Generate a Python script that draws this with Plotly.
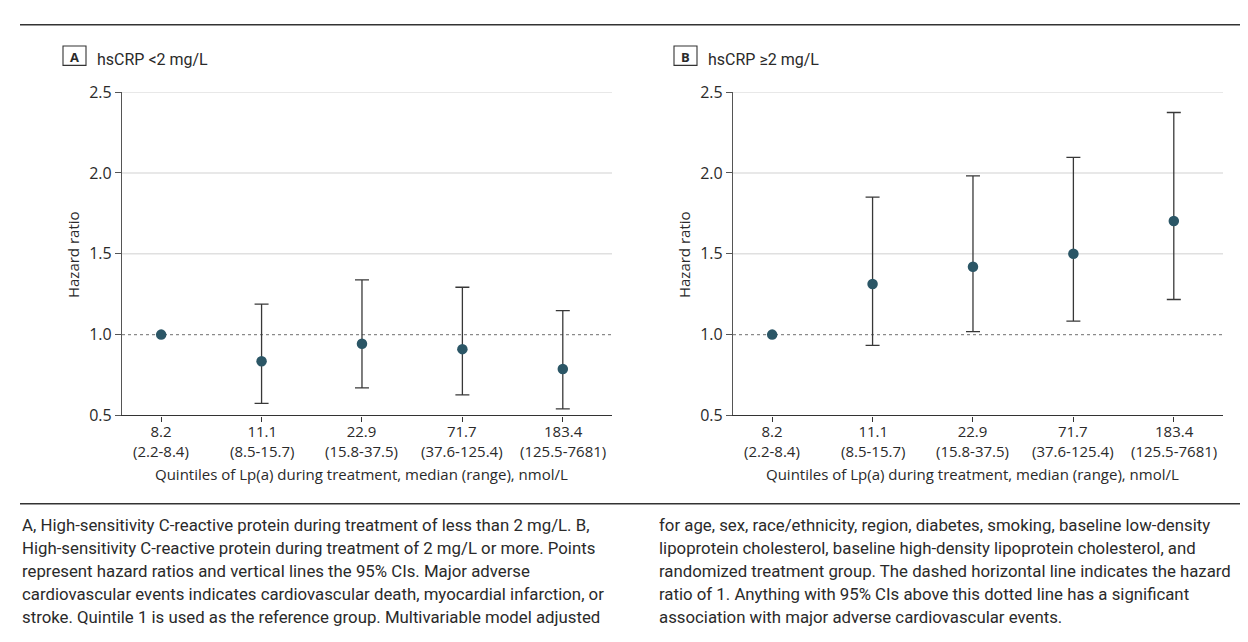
import plotly.graph_objects as go

W, H = 1248, 642

# ---------------- data ----------------
medians = ["8.2", "11.1", "22.9", "71.7", "183.4"]
ranges = ["(2.2-8.4)", "(8.5-15.7)", "(15.8-37.5)", "(37.6-125.4)", "(125.5-7681)"]

hr_a = [1.0, 0.835, 0.943, 0.910, 0.787]
lo_a = [None, 0.574, 0.670, 0.627, 0.540]
hi_a = [None, 1.188, 1.339, 1.293, 1.148]

hr_b = [1.0, 1.313, 1.420, 1.500, 1.703]
lo_b = [None, 0.934, 1.018, 1.084, 1.217]
hi_b = [None, 1.851, 1.982, 2.096, 2.374]

y_ticks = [0.5, 1.0, 1.5, 2.0, 2.5]
y_ticktext = ["0.5", "1.0", "1.5", "2.0", "2.5"]
grid_vals = [1.5, 2.0, 2.5]
ref_val = 1.0

panel_letters = ["A", "B"]
panel_titles = ["hsCRP <2 mg/L", "hsCRP ≥2 mg/L"]
x_title = "Quintiles of Lp(a) during treatment, median (range), nmol/L"
y_title = "Hazard ratio"

caption_left = [
    "A, High-sensitivity C-reactive protein during treatment of less than 2 mg/L. B,",
    "High-sensitivity C-reactive protein during treatment of 2 mg/L or more. Points",
    "represent hazard ratios and vertical lines the 95% CIs. Major adverse",
    "cardiovascular events indicates cardiovascular death, myocardial infarction, or",
    "stroke. Quintile 1 is used as the reference group. Multivariable model adjusted",
]
caption_right = [
    "for age, sex, race/ethnicity, region, diabetes, smoking, baseline low-density",
    "lipoprotein cholesterol, baseline high-density lipoprotein cholesterol, and",
    "randomized treatment group. The dashed horizontal line indicates the hazard",
    "ratio of 1. Anything with 95% CIs above this dotted line has a significant",
    "association with major adverse cardiovascular events.",
]

# ---------------- style ----------------
TXT = "#2a2a2a"
MARK = "#2b5666"
TICK_FONT = "Open Sans, Noto Sans, sans-serif"
NARROW = "Roboto, Liberation Sans, sans-serif"


def px(x):
    return x / W


def py(y):
    return 1 - y / H


x_domains = [[px(114), px(604)], [px(725), px(1215)]]
y_domain = [py(410.5), py(75.7)]

fig = go.Figure()

datasets = [(hr_a, lo_a, hi_a), (hr_b, lo_b, hi_b)]
for i, (hr, lo, hi) in enumerate(datasets):
    xa = "x" if i == 0 else "x2"
    ya = "y" if i == 0 else "y2"
    idx = [k for k in range(len(hr)) if lo[k] is not None]
    fig.add_trace(go.Scatter(
        x=[medians[k] for k in idx], y=[hr[k] for k in idx],
        mode="markers", marker=dict(size=10, color="rgba(0,0,0,0)"),
        error_y=dict(type="data", symmetric=False,
                     array=[hi[k] - hr[k] for k in idx],
                     arrayminus=[hr[k] - lo[k] for k in idx],
                     color="#383838", thickness=1.3, width=7),
        xaxis=xa, yaxis=ya, showlegend=False, hoverinfo="skip"))
    fig.add_trace(go.Scatter(
        x=medians, y=hr, mode="markers",
        marker=dict(size=10.5, color=MARK, line=dict(width=0)),
        xaxis=xa, yaxis=ya, showlegend=False))

axis_common_x = dict(
    type="category", categoryorder="array", categoryarray=medians,
    range=[-0.39, 4.49], showline=True, linecolor="#333333", linewidth=1.3,
    ticks="outside", ticklen=5, tickwidth=1.2, tickcolor="#333333",
    showticklabels=False, showgrid=False, zeroline=False, fixedrange=True,
)
axis_common_y = dict(
    range=[0.5, 2.5], tickvals=y_ticks, ticktext=y_ticktext,
    showline=True, linecolor="#555555", linewidth=1.3,
    ticks="outside", ticklen=6, tickwidth=1.2, tickcolor="#555555",
    showgrid=False, zeroline=False, fixedrange=True,
    tickfont=dict(family=TICK_FONT, size=16, color=TXT),
)

fig.update_layout(
    width=W, height=H, margin=dict(l=0, r=0, t=0, b=0),
    paper_bgcolor="white", plot_bgcolor="white",
    xaxis=dict(domain=x_domains[0], anchor="y", **axis_common_x),
    yaxis=dict(domain=y_domain, anchor="x", **axis_common_y),
    xaxis2=dict(domain=x_domains[1], anchor="y2", **axis_common_x),
    yaxis2=dict(domain=y_domain, anchor="x2", **axis_common_y),
)

shapes = []
annotations = []
for i in range(2):
    xr = "x" if i == 0 else "x2"
    yr = "y" if i == 0 else "y2"
    for g in grid_vals:
        shapes.append(dict(type="line", xref=xr + " domain", yref=yr,
                           x0=0, x1=1, y0=g, y1=g, layer="below",
                           line=dict(color="#e0e0e0", width=1.4)))
    shapes.append(dict(type="line", xref=xr + " domain", yref=yr,
                       x0=0, x1=1, y0=ref_val, y1=ref_val, layer="below",
                       line=dict(color="#8a8a8a", width=1.3, dash="dot")))
    off = 0 if i == 0 else 611
    # panel letter box
    shapes.append(dict(type="rect", xref="paper", yref="paper",
                       x0=px(55 + off), x1=px(78 + off), y0=py(48), y1=py(28),
                       line=dict(color="#333333", width=1.1)))
    annotations.append(dict(text="<b>" + panel_letters[i] + "</b>", xref="paper", yref="paper",
                            x=px(66.7 + off), y=py(39), xanchor="center", yanchor="middle",
                            showarrow=False, font=dict(family=TICK_FONT, size=13, color=TXT)))
    annotations.append(dict(text=panel_titles[i], xref="paper", yref="paper",
                            x=px(87 + off), y=py(41.5), xanchor="left", yanchor="middle",
                            showarrow=False, font=dict(family=NARROW, size=16, color=TXT)))
    # two-line category labels (median / range), at category positions
    for k in range(len(medians)):
        annotations.append(dict(text=medians[k] + "<br>" + ranges[k], xref=xr, yref="paper",
                                x=k, y=py(437), xanchor="center", yanchor="middle",
                                showarrow=False, font=dict(family=TICK_FONT, size=15, color=TXT)))
    # axis titles
    annotations.append(dict(text=x_title, xref=xr, yref="paper",
                            x=(len(medians) - 1) / 2, y=py(471.5), xanchor="center", yanchor="middle",
                            showarrow=False, font=dict(family=TICK_FONT, size=15, color=TXT)))
    annotations.append(dict(text=y_title, xref="paper", yref="paper", textangle=-90,
                            x=px(64.4 + off), y=py(244), xanchor="center", yanchor="middle",
                            showarrow=False, font=dict(family=TICK_FONT, size=15, color=TXT)))

# rules
for yy in (6, 502):
    shapes.append(dict(type="line", xref="paper", yref="paper",
                       x0=px(12), x1=px(1236), y0=py(yy), y1=py(yy),
                       line=dict(color="#333333", width=1.5)))

# caption
for j, line in enumerate(caption_left):
    annotations.append(dict(text=line, xref="paper", yref="paper",
                            x=px(12), y=py(524 + 23.75 * j), xanchor="left", yanchor="middle",
                            showarrow=False, font=dict(family=NARROW, size=16.8, color=TXT)))
for j, line in enumerate(caption_right):
    annotations.append(dict(text=line, xref="paper", yref="paper",
                            x=px(649), y=py(524 + 23.75 * j), xanchor="left", yanchor="middle",
                            showarrow=False, font=dict(family=NARROW, size=16.8, color=TXT)))

fig.update_layout(shapes=shapes, annotations=annotations)
fig.write_html("out.html")
